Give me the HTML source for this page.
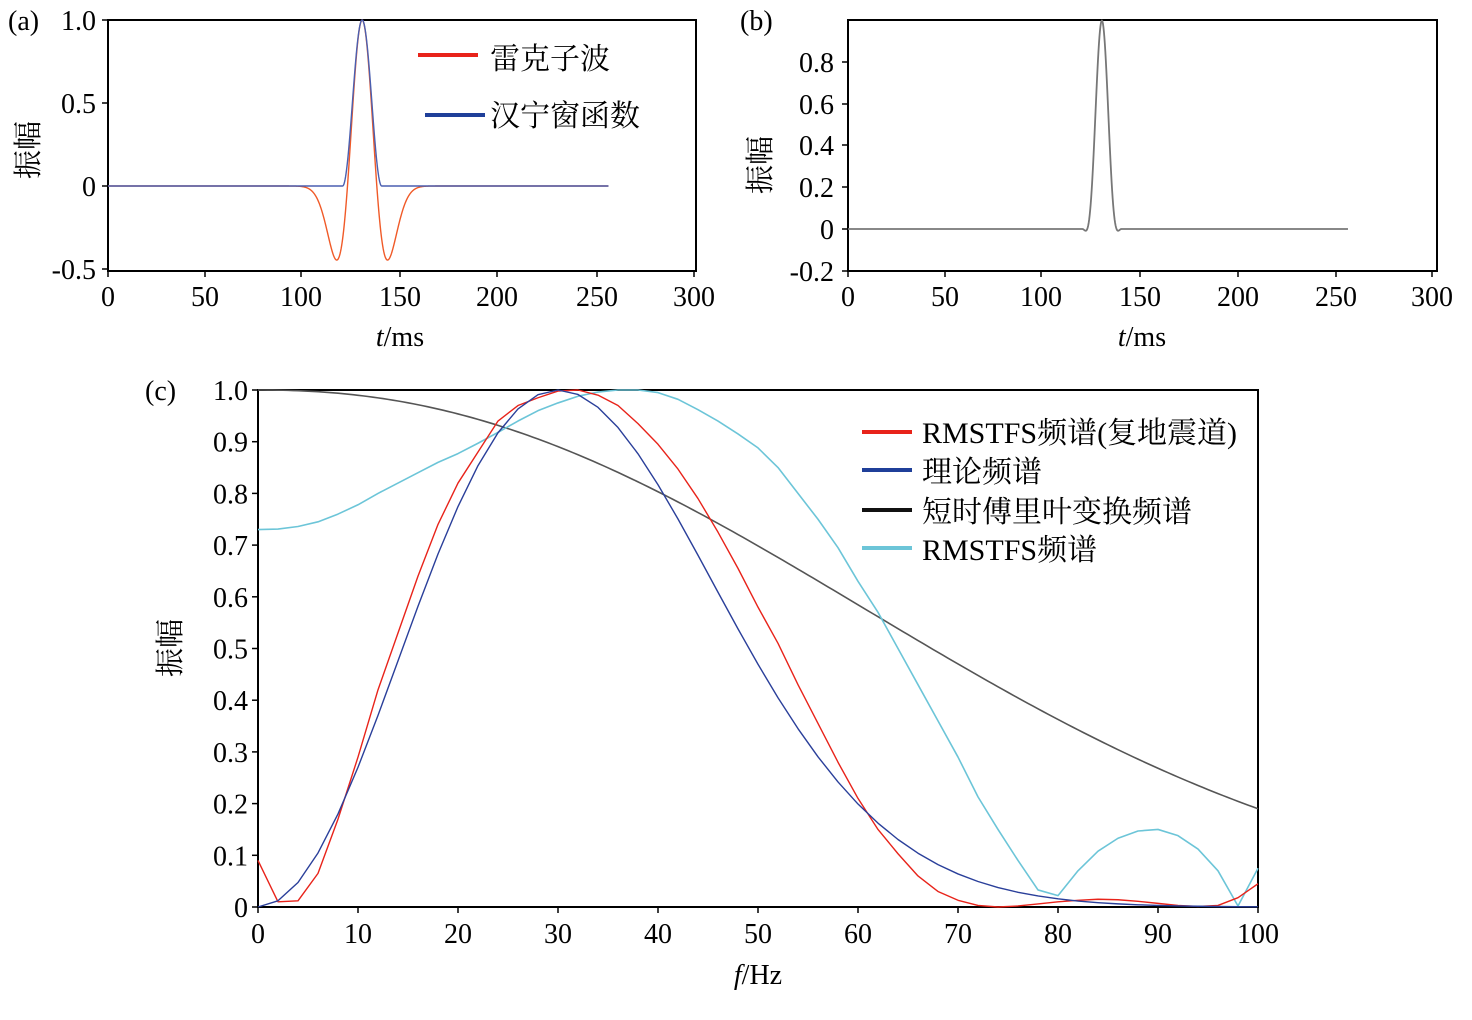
<!DOCTYPE html>
<html><head><meta charset="utf-8"><style>
html,body{margin:0;padding:0;background:#fff;}
svg{display:block;font-family:"Liberation Serif","Noto Serif CJK SC",serif;}
text{fill:#000;}
</style></head><body>
<svg id="s" width="1472" height="1020" viewBox="0 0 1472 1020" xmlns="http://www.w3.org/2000/svg">
<g font-size="28">
<!-- panel a -->
<text x="8" y="30">(a)</text>
<rect x="108" y="20" width="588" height="251" fill="none" stroke="#000" stroke-width="2"/>
<g text-anchor="end">
<text x="96" y="30">1.0</text><text x="96" y="113">0.5</text><text x="96" y="196">0</text><text x="96" y="279">-0.5</text>
</g>
<g text-anchor="middle">
<text x="108" y="306">0</text><text x="205" y="306">50</text><text x="301" y="306">100</text><text x="400" y="306">150</text><text x="497" y="306">200</text><text x="597" y="306">250</text><text x="694" y="306">300</text>
<text x="400" y="346"><tspan font-style="italic">t</tspan>/ms</text>
</g>
<text transform="translate(38,150) rotate(-90)" text-anchor="middle" font-size="29">振幅</text>
<line x1="418" y1="55" x2="478" y2="55" stroke="#e8231a" stroke-width="4"/>
<line x1="425" y1="115" x2="485" y2="115" stroke="#1f3f99" stroke-width="4"/>
<text x="490" y="69" font-size="30">雷克子波</text>
<text x="490" y="126" font-size="30">汉宁窗函数</text>
<!-- panel b -->
<text x="740" y="30">(b)</text>
<rect x="848" y="20" width="589" height="251" fill="none" stroke="#000" stroke-width="2"/>
<g text-anchor="end">
<text x="834" y="72">0.8</text><text x="834" y="114">0.6</text><text x="834" y="155">0.4</text><text x="834" y="197">0.2</text><text x="834" y="239">0</text><text x="834" y="281">-0.2</text>
</g>
<g text-anchor="middle">
<text x="848" y="306">0</text><text x="945" y="306">50</text><text x="1041" y="306">100</text><text x="1140" y="306">150</text><text x="1238" y="306">200</text><text x="1336" y="306">250</text><text x="1432" y="306">300</text>
<text x="1142" y="346"><tspan font-style="italic">t</tspan>/ms</text>
</g>
<text transform="translate(770,165) rotate(-90)" text-anchor="middle" font-size="29">振幅</text>
<!-- panel c -->
<text x="145" y="400">(c)</text>
<rect x="258" y="390" width="1000" height="517" fill="none" stroke="#000" stroke-width="2"/>
<g id="cy" text-anchor="end"></g>
<g id="cx" text-anchor="middle"></g>
<text x="758" y="984" text-anchor="middle"><tspan font-style="italic">f</tspan>/Hz</text>
<text transform="translate(180,648) rotate(-90)" text-anchor="middle" font-size="29">振幅</text>
<line x1="862" y1="432" x2="912" y2="432" stroke="#e8231a" stroke-width="4"/>
<line x1="862" y1="470" x2="912" y2="470" stroke="#1f3f99" stroke-width="4"/>
<line x1="862" y1="510" x2="912" y2="510" stroke="#111" stroke-width="4"/>
<line x1="862" y1="548" x2="912" y2="548" stroke="#6cc5d8" stroke-width="4"/>
<g font-size="30">
<text x="922" y="443">RMSTFS频谱(复地震道)</text>
<text x="922" y="482">理论频谱</text>
<text x="922" y="522">短时傅里叶变换频谱</text>
<text x="922" y="560">RMSTFS频谱</text>
</g>
</g>
<g id="curves" fill="none"></g>
<g id="ticks" stroke="#000" stroke-width="1.5"></g>
</svg>
<script>
var NS="http://www.w3.org/2000/svg";
function el(p,tag,a,txt){var e=document.createElementNS(NS,tag);for(var k in a)e.setAttribute(k,a[k]);if(txt!==undefined)e.textContent=txt;document.getElementById(p).appendChild(e);return e;}
function path(pts,col,w){var d="M"+pts.map(function(p){return p[0].toFixed(2)+","+p[1].toFixed(2)}).join("L");el("curves","path",{d:d,stroke:col,"stroke-width":w,"stroke-linejoin":"round"});}
function tk(x1,y1,x2,y2){el("ticks","line",{x1:x1,y1:y1,x2:x2,y2:y2});}
[108,205,301,400,497,597,694].forEach(function(x){tk(x,271,x,277);});
[20,103,186,269].forEach(function(y){tk(102,y,108,y);});
[848,945,1041,1140,1238,1336,1432].forEach(function(x){tk(x,271,x,277);});
[62,104,145,187,229,271].forEach(function(y){tk(842,y,848,y);});
for(var i=0;i<=10;i++){var x=258+i*100;tk(x,907,x,913);el("cx","text",{x:x,y:943},String(i*10));}
for(var i=0;i<=10;i++){var y=907-i*51.7;tk(252,y,258,y);el("cy","text",{x:248,y:y+10},i==0?"0":(i==10?"1.0":(i/10).toFixed(1)));}
function rick(t){var a=Math.PI*30*(t-130)/1000;a*=a;return (1-2*a)*Math.exp(-a);}
function hann(t){var d=t-130;if(Math.abs(d)>=10)return 0;return 0.5*(1+Math.cos(Math.PI*d/10));}
var ra=[],ha=[],pb=[];
for(var t=0;t<=256;t+=0.25){var xa=108+t*1.955;ra.push([xa,186-166*rick(t)]);ha.push([xa,186-166*hann(t)]);pb.push([848+t*1.953,229-208.5*rick(t)*hann(t)]);}
path(ra,"#f05a28",1.4);path(ha,"#4a5fb0",1.4);path(pb,"#777",1.8);
function X(f){return 258+f*10;}function Y(v){return 907-v*517;}
var blk=[];for(var f=0;f<=100;f+=0.5){blk.push([X(f),Y(Math.exp(-Math.pow(f/79.5,2.21)))]);}
path(blk,"#555",1.6);
var red=[.09,.01,.012,.065,.17,.29,.42,.53,.64,.74,.82,.88,.94,.97,.985,.998,1,.99,.97,.935,.895,.847,.79,.725,.655,.58,.51,.43,.355,.28,.21,.15,.103,.06,.03,.013,.003,0,.002,.006,.01,.013,.015,.014,.011,.007,.003,.001,.003,.018,.045];
var cyn=[.73,.731,.736,.745,.76,.778,.80,.82,.84,.86,.877,.897,.918,.94,.96,.975,.988,.996,1,1,.995,.982,.962,.94,.915,.888,.85,.80,.75,.695,.63,.57,.50,.43,.36,.29,.213,.15,.09,.033,.022,.07,.108,.133,.147,.15,.138,.112,.07,.002,.075];
var rp=[],cp=[],bp=[];
for(var i=0;i<=50;i++){var f=i*2;rp.push([X(f),Y(red[i])]);cp.push([X(f),Y(cyn[i])]);var q=f/30;bp.push([X(f),Y(q*q*Math.exp(1-q*q))]);}
path(cp,"#6cc5d8",1.6);path(rp,"#e8231a",1.4);path(bp,"#2a3f9a",1.4);
</script>
</body></html>
